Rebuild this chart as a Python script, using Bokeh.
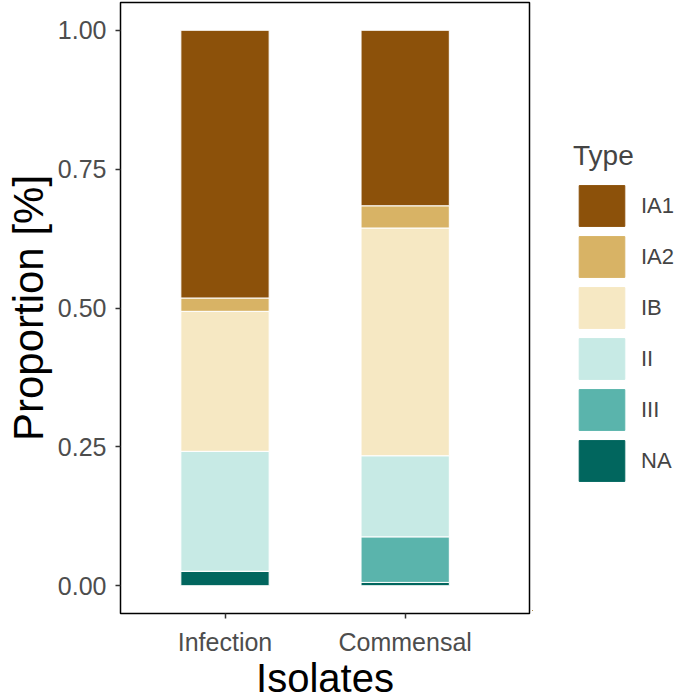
from bokeh.plotting import figure
from bokeh.layouts import row
from bokeh.models import Legend, LegendItem, FixedTicker, NumeralTickFormatter, Range1d
from bokeh.embed import file_html
from bokeh.resources import INLINE

# proportions, bottom to top of each stack
isolates = ["Infection", "Commensal"]
types = ["NA", "III", "II", "IB", "IA2", "IA1"]
NA = [0.026, 0.006]
III = [0.0, 0.082]
II = [0.216, 0.146]
IB = [0.252, 0.410]
IA2 = [0.024, 0.040]
IA1 = [0.482, 0.316]
colors = ["#01665e", "#5ab4ac", "#c7eae5", "#f6e8c3", "#d8b365", "#8c510a"]
y_ticks = [0.0, 0.25, 0.5, 0.75, 1.0]

xpos = list(range(1, len(isolates) + 1))
data = dict(x=xpos, NA=NA, III=III, II=II, IB=IB, IA2=IA2, IA1=IA1)

font = "Liberation Sans"
p = figure(width=532, height=699, output_backend="svg", toolbar_location=None,
           x_range=Range1d(0.42, 2.69), y_range=Range1d(-0.05, 1.05),
           min_border_left=120, min_border_right=3, min_border_top=2,
           min_border_bottom=80)
p.frame_width = 409
p.frame_height = 611

p.vbar_stack(types, x="x", width=0.49, source=data, color=colors,
             line_color="white", line_width=1)

p.xgrid.visible = False
p.ygrid.visible = False
p.outline_line_color = "black"
p.outline_line_width = 1.5

p.xaxis.ticker = FixedTicker(ticks=xpos)
p.xaxis.major_label_overrides = {x: name for x, name in zip(xpos, isolates)}
p.yaxis.ticker = FixedTicker(ticks=y_ticks)
p.yaxis.formatter = NumeralTickFormatter(format="0.00")
p.xaxis.axis_label = "Isolates"
p.yaxis.axis_label = "Proportion [%]"

for ax in (p.xaxis, p.yaxis):
    ax.axis_line_color = None
    ax.minor_tick_line_color = None
    ax.major_tick_line_color = "#333333"
    ax.major_tick_line_width = 1.5
    ax.major_tick_out = 5
    ax.major_tick_in = 0
    ax.major_label_text_font = font
    ax.major_label_text_font_size = "25px"
    ax.major_label_text_color = "#4d4d4d"
    ax.axis_label_text_font = font
    ax.axis_label_text_font_style = "normal"
    ax.axis_label_text_color = "black"
p.xaxis.axis_label_text_font_size = "40px"
p.yaxis.axis_label_text_font_size = "42px"
p.xaxis.major_label_standoff = 9
p.yaxis.major_label_standoff = 9
p.xaxis.axis_label_standoff = -3
p.yaxis.axis_label_standoff = 3

# legend lives in its own narrow figure to the right of the panel;
# its swatch bars use the same data but sit outside that figure's view
leg = figure(width=148, height=699, output_backend="svg", toolbar_location=None,
             x_range=Range1d(10, 11), y_range=Range1d(10, 11), min_border=0)
leg.axis.visible = False
leg.grid.visible = False
leg.outline_line_color = None
leg.background_fill_alpha = 0
leg.border_fill_alpha = 0
swatches = [leg.vbar(x="x", top=t, width=0.5, source=data, color=c)
            for t, c in zip(types, colors)]

items = [LegendItem(label=t, renderers=[r]) for t, r in zip(types, swatches)][::-1]
legend = Legend(items=items, title="Type", location=(41, 124),
                title_text_font=font, title_text_font_size="28px",
                title_text_font_style="normal", title_standoff=8,
                label_text_font=font, label_text_font_size="22px",
                glyph_width=57, glyph_height=51, spacing=0,
                label_standoff=11, margin=0, padding=4,
                border_line_color=None, background_fill_alpha=0)
leg.add_layout(legend)

open("out.html", "w").write(file_html(row(p, leg), INLINE))
